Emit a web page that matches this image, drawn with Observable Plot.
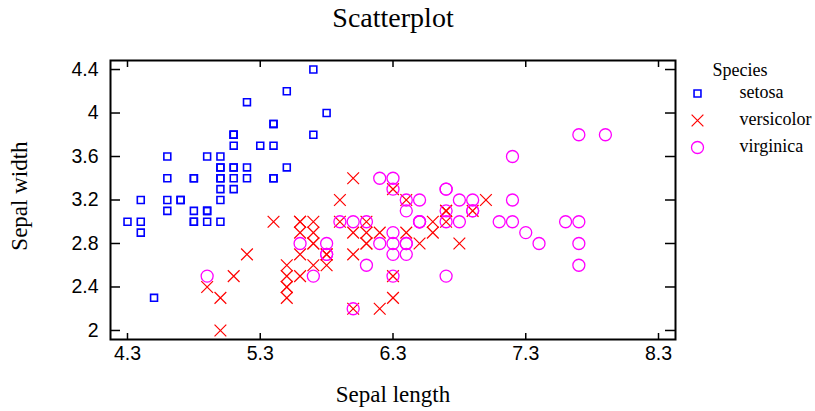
<!DOCTYPE html>
<html>
<head>
<meta charset="utf-8">
<script src="https://cdn.jsdelivr.net/npm/d3@7"></script>
<script src="https://cdn.jsdelivr.net/npm/@observablehq/plot@0.6"></script>
<style>
  html, body { margin: 0; padding: 0; background: #fff; }
</style>
</head>
<body>
<div id="chart"></div>
<script>
const species = ["setosa", "versicolor", "virginica"];
const colors = ["#0000ff", "#ff0000", "#ff00ff"];
const xTicks = [4.3, 5.3, 6.3, 7.3, 8.3];
const yTicks = [2, 2.4, 2.8, 3.2, 3.6, 4, 4.4];

const setosaLength = [5.1,4.9,4.7,4.6,5.0,5.4,4.6,5.0,4.4,4.9,5.4,4.8,4.8,4.3,5.8,5.7,5.4,5.1,5.7,5.1,5.4,5.1,4.6,5.1,4.8,5.0,5.0,5.2,5.2,4.7,4.8,5.4,5.2,5.5,4.9,5.0,5.5,4.9,4.4,5.1,5.0,4.5,4.4,5.0,5.1,4.8,5.1,4.6,5.3,5.0];
const setosaWidth  = [3.5,3.0,3.2,3.1,3.6,3.9,3.4,3.4,2.9,3.1,3.7,3.4,3.0,3.0,4.0,4.4,3.9,3.5,3.8,3.8,3.4,3.7,3.6,3.3,3.4,3.0,3.4,3.5,3.4,3.2,3.1,3.4,4.1,4.2,3.1,3.2,3.5,3.6,3.0,3.4,3.5,2.3,3.2,3.5,3.8,3.0,3.8,3.2,3.7,3.3];
const versicolorLength = [7.0,6.4,6.9,5.5,6.5,5.7,6.3,4.9,6.6,5.2,5.0,5.9,6.0,6.1,5.6,6.7,5.6,5.8,6.2,5.6,5.9,6.1,6.3,6.1,6.4,6.6,6.8,6.7,6.0,5.7,5.5,5.5,5.8,6.0,5.4,6.0,6.7,6.3,5.6,5.5,5.5,6.1,5.8,5.0,5.6,5.7,5.7,6.2,5.1,5.7];
const versicolorWidth  = [3.2,3.2,3.1,2.3,2.8,2.8,3.3,2.4,2.9,2.7,2.0,3.0,2.2,2.9,2.9,3.1,3.0,2.7,2.2,2.5,3.2,2.8,2.5,2.8,2.9,3.0,2.8,3.0,2.9,2.6,2.4,2.4,2.7,2.7,3.0,3.4,3.1,2.3,3.0,2.5,2.6,3.0,2.6,2.3,2.7,3.0,2.9,2.9,2.5,2.8];
const virginicaLength = [6.3,5.8,7.1,6.3,6.5,7.6,4.9,7.3,6.7,7.2,6.5,6.4,6.8,5.7,5.8,6.4,6.5,7.7,7.7,6.0,6.9,5.6,7.7,6.3,6.7,7.2,6.2,6.1,6.4,7.2,7.4,7.9,6.4,6.3,6.1,7.7,6.3,6.4,6.0,6.9,6.7,6.9,5.8,6.8,6.7,6.7,6.3,6.5,6.2,5.9];
const virginicaWidth  = [3.3,2.7,3.0,2.9,3.0,3.0,2.5,2.9,2.5,3.6,3.2,2.7,3.0,2.5,2.8,3.2,3.0,3.8,2.6,2.2,3.2,2.8,2.8,2.7,3.3,3.2,2.8,3.0,2.8,3.0,2.8,3.8,2.8,2.8,2.6,3.0,3.4,3.1,3.0,3.1,3.1,3.1,2.7,3.2,3.3,3.0,2.5,3.0,3.4,3.0];

const series = [
  {name: "setosa", len: setosaLength, wid: setosaWidth, symbol: "square", r: 3.9, sw: 1.6},
  {name: "versicolor", len: versicolorLength, wid: versicolorWidth, symbol: "times", r: 5.4, sw: 1.2},
  {name: "virginica", len: virginicaLength, wid: virginicaWidth, symbol: "circle", r: 6, sw: 1.3}
];
series.forEach((s, i) => {
  s.color = colors[i];
  s.rows = s.len.map((v, j) => ({length: v, width: s.wid[j], species: s.name}));
});

const W = 815, H = 411, mL = 110, mR = 140, mT = 60, mB = 72;
const pw = W - mL - mR, ph = H - mT - mB;
const serif = "Liberation Serif, Times New Roman, serif";
const sans = "Liberation Sans, Arial, sans-serif";

const marks = [
  Plot.frame({stroke: "black", strokeWidth: 2}),
  Plot.tickX(xTicks, {x: d => d, insetTop: ph - 6, stroke: "black", strokeWidth: 1.5}),
  Plot.tickX(xTicks, {x: d => d, insetBottom: ph - 7, stroke: "black", strokeWidth: 1.5}),
  Plot.tickY(yTicks, {y: d => d, insetRight: pw - 10, stroke: "black", strokeWidth: 1.5}),
  Plot.tickY(yTicks, {y: d => d, insetLeft: pw - 10, stroke: "black", strokeWidth: 1.5}),
  Plot.axisX(xTicks, {tickSize: 0, tickPadding: 7, label: null, tickFormat: d => String(d), fontSize: 19.5, fontFamily: sans, fill: "black"}),
  Plot.axisY(yTicks, {tickSize: 0, tickPadding: 12, label: null, tickFormat: d => String(d), fontSize: 19.5, fontFamily: sans, fill: "black"}),
  Plot.text(["Scatterplot"], {frameAnchor: "top", lineAnchor: "middle", dy: -42, fontSize: 28, fontFamily: serif, fill: "black"}),
  Plot.text(["Sepal length"], {frameAnchor: "bottom", lineAnchor: "middle", dy: 55, fontSize: 23, fontFamily: serif, fill: "black"}),
  Plot.text(["Sepal width"], {frameAnchor: "left", lineAnchor: "middle", textAnchor: "middle", dx: -91, dy: -4, rotate: -90, fontSize: 23, fontFamily: serif, fill: "black"}),
  Plot.text(["Species"], {frameAnchor: "top-right", lineAnchor: "middle", dx: 37, dy: 10, textAnchor: "start", fontSize: 18, fontFamily: serif, fill: "black"})
];

series.forEach((s, i) => {
  marks.push(Plot.dot(s.rows, {x: "length", y: "width", symbol: () => s.symbol, r: s.r, stroke: s.color, strokeWidth: s.sw, fill: "none"}));
});
series.forEach((s, i) => {
  marks.push(Plot.dot([s.name], {frameAnchor: "top-right", dx: 22, dy: 33 + i * 27, symbol: () => s.symbol, r: s.r, stroke: s.color, strokeWidth: s.sw, fill: "none"}));
  marks.push(Plot.text([s.name], {text: d => d, frameAnchor: "top-right", lineAnchor: "middle", dx: 64, dy: 32 + i * 27, textAnchor: "start", fontSize: 18, fontFamily: serif, fill: "black"}));
});

const chart = Plot.plot({
  width: W, height: H,
  marginLeft: mL, marginRight: mR, marginTop: mT, marginBottom: mB,
  x: {domain: [4.172, 8.428]},
  y: {domain: [1.917, 4.483]},
  symbol: {type: "identity"},
  style: {background: "white", color: "black", fontFamily: sans, fontSize: "19.5px"},
  marks
});
document.getElementById("chart").appendChild(chart);
</script>
</body>
</html>
